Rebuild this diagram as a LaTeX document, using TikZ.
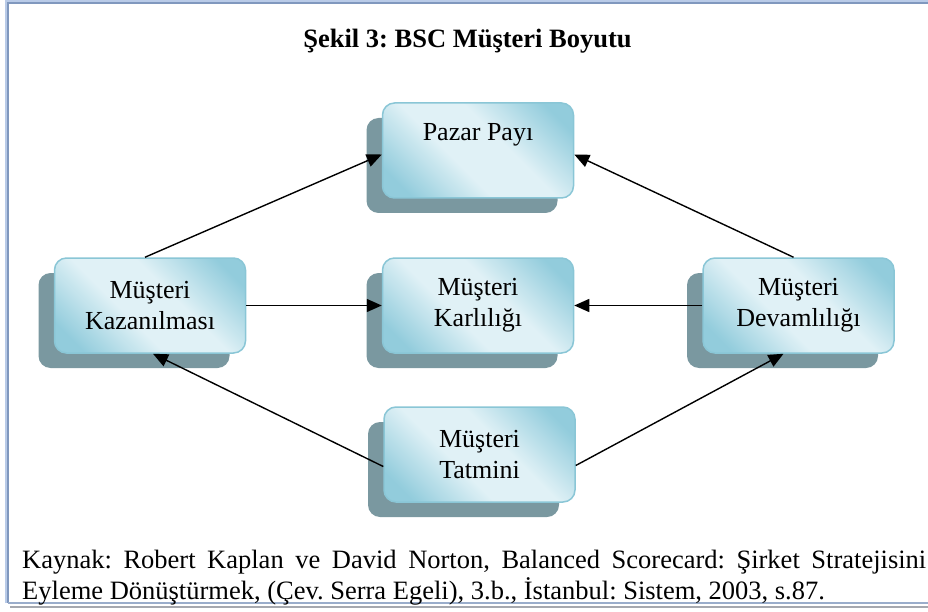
\documentclass[tikz,border=0pt]{standalone}
\usepackage{fontspec}
\setmainfont{Liberation Serif}
\usetikzlibrary{arrows.meta,calc,shadows}
\definecolor{boxlight}{RGB}{224,241,246}
\definecolor{boxdark}{RGB}{146,204,220}
\definecolor{boxline}{RGB}{138,198,214}
\definecolor{shadowc}{RGB}{122,152,160}
\definecolor{framedark}{RGB}{128,152,190}
\definecolor{framelight}{RGB}{185,203,232}
\definecolor{framegray}{RGB}{165,168,175}
\pgfdeclareverticalshading{boxshade}{100bp}{color(0bp)=(boxdark); color(22bp)=(boxdark); color(42bp)=(boxlight); color(58bp)=(boxlight); color(78bp)=(boxdark); color(100bp)=(boxdark)}
\frenchspacing
\begin{document}
\frenchspacing
\begin{tikzpicture}[x=1pt,y=-1pt,
  boxstyle/.style={rounded corners=12pt, minimum width=191pt, minimum height=95pt,
    draw=boxline, line width=1.5pt, shading=boxshade, shading angle=-45, align=center,
    font=\fontsize{26}{31}\selectfont, inner sep=0pt,
    drop shadow={shadow xshift=-16pt, shadow yshift=-15pt, fill=shadowc, opacity=1, draw=none}},
  arr/.style={-{Triangle[length=15pt,width=13pt]}, line width=1.4pt, black},
  txt/.style={font=\fontsize{26.5}{31}\selectfont, inner sep=0pt}
]
\useasboundingbox (0,0) rectangle (928,612);
% frame
\draw[framegray, line width=1.5pt] (10,607) -- (930,607);
\draw[framelight, line width=2pt] (5.5,603) -- (5.5,1.5) -- (930,1.5);
\draw[framedark, line width=2pt] (8.3,603) -- (8.3,3.5) -- (930,3.5);
\draw[framedark!80, line width=2pt] (8.3,603) -- (930,603);
% title
\node[txt, font=\bfseries\fontsize{26.5}{31}\selectfont, anchor=base] (title) at (467.5,48) {Şekil 3: BSC Müşteri Boyutu};
% boxes
\node[boxstyle] (pazar) at (478,150.5) {Pazar Payı\\\phantom{Kg}};
\node[boxstyle] (kaz) at (150,305.5) {Müşteri\\Kazanılması};
\node[boxstyle] (karl) at (478,305.5) {Müşteri\\Karlılığı};
\node[boxstyle] (dev) at (798.5,305.5) {Müşteri\\Devamlılığı};
\node[boxstyle] (tat) at (479.5,454.5) {Müşteri\\Tatmini};
% arrows
\draw[arr] ($(kaz.north)+(-5,0)$) -- ($(pazar.west)+(0,4)$);
\draw[arr] ($(dev.north)+(-5,0)$) -- ($(pazar.east)+(0,4)$);
\draw[arr] (kaz.east) -- (karl.west);
\draw[arr] (dev.west) -- (karl.east);
\draw[arr] ($(tat.west)+(0,12)$) -- ($(kaz.south)+(3,0)$);
\draw[arr] ($(tat.east)+(0,11)$) -- ($(dev.south)+(-15,0)$);
% caption
\node[txt, anchor=base west] (cap1) at (22,568) {\makebox[904pt][s]{Kaynak: Robert Kaplan ve David Norton, Balanced Scorecard: Şirket Stratejisini}};
\node[txt, anchor=base west] (cap2) at (22,599) {Eyleme Dönüştürmek, (Çev. Serra Egeli), 3.b., İstanbul: Sistem, 2003, s.87.};
\end{tikzpicture}
\end{document}
